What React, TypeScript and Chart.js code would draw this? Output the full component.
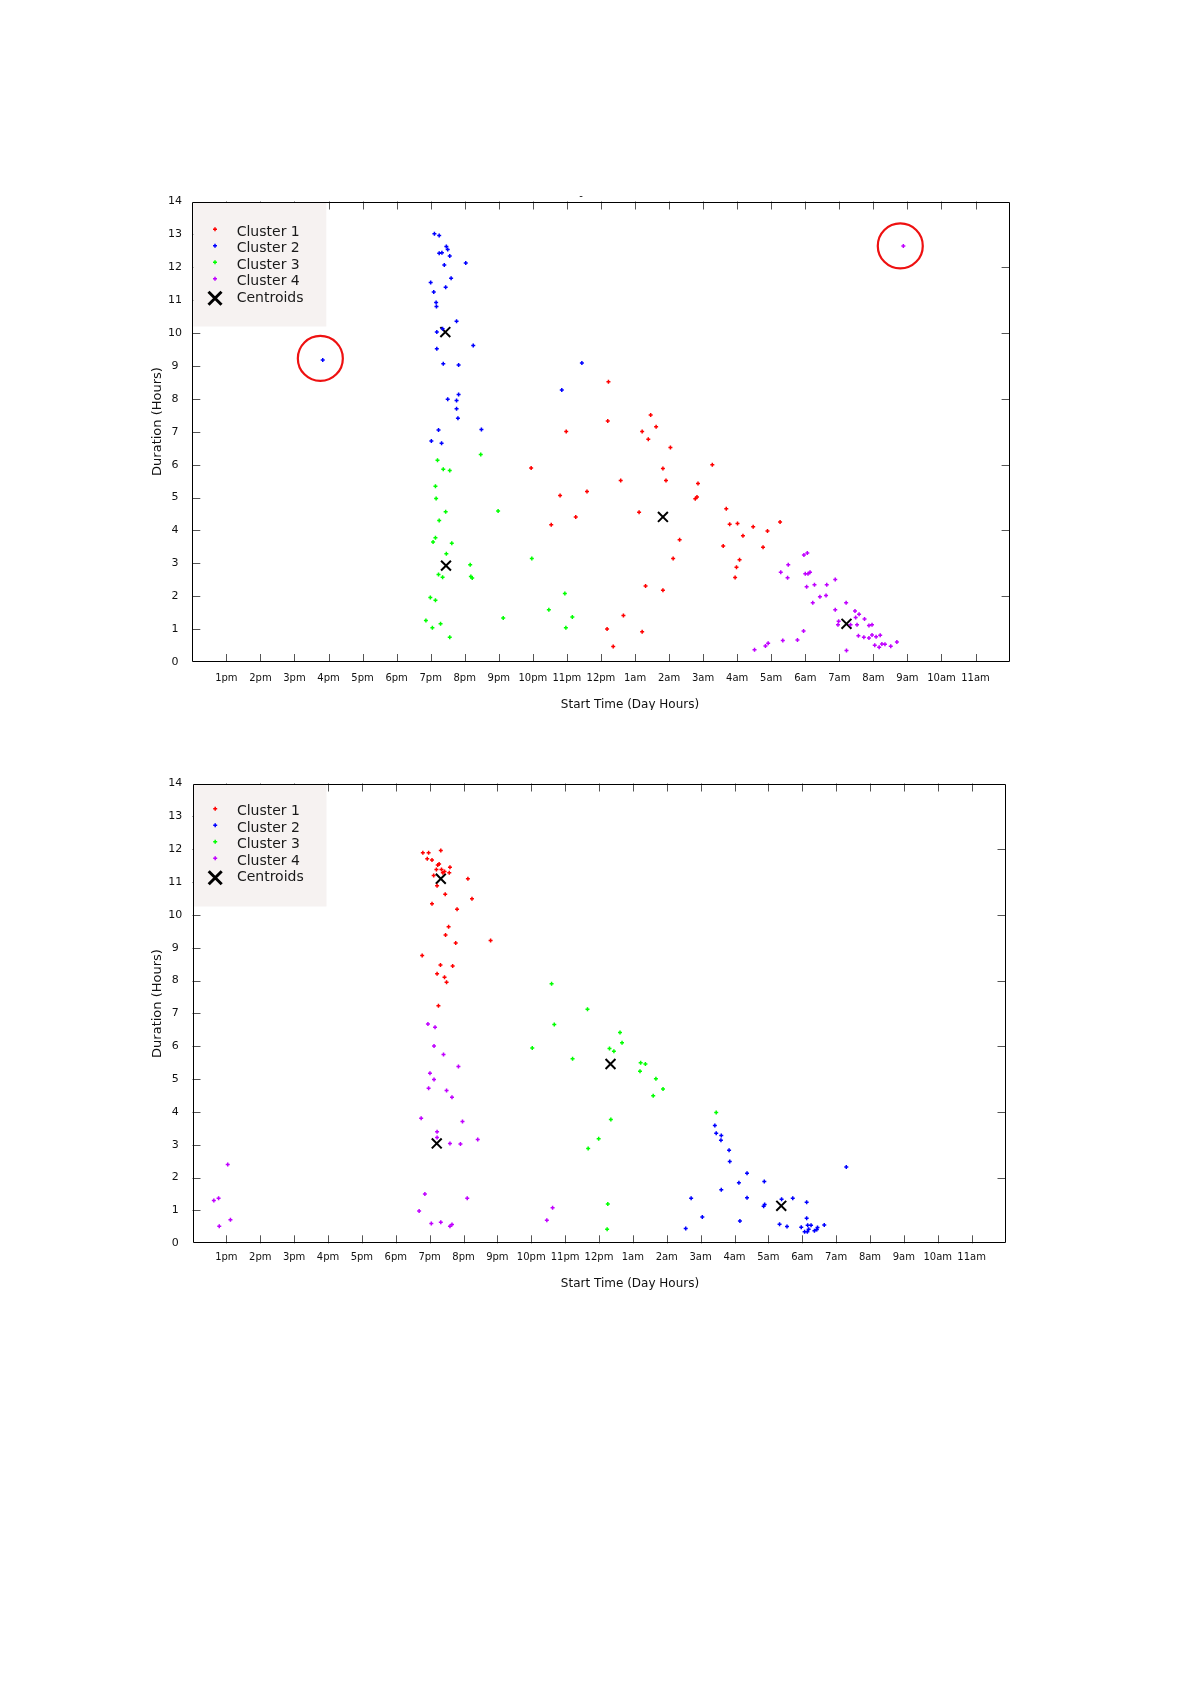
import React, { useEffect, useRef } from 'react';
import { Chart, registerables } from 'chart.js';

Chart.register(...registerables);

type Pt = [number, number];

// x values are hours after 12pm (noon); labels as printed on the chart
const hourLabels = ['12pm', '1pm', '2pm', '3pm', '4pm', '5pm', '6pm', '7pm', '8pm', '9pm', '10pm', '11pm', '12pm',
  '1am', '2am', '3am', '4am', '5am', '6am', '7am', '8am', '9am', '10am', '11am', '12pm'];
const hourTicks = [1, 2, 3, 4, 5, 6, 7, 8, 9, 10, 11, 12, 13, 14, 15, 16, 17, 18, 19, 20, 21, 22, 23];
const durationTicks = [0, 1, 2, 3, 4, 5, 6, 7, 8, 9, 10, 11, 12, 13, 14];
const legendLabels = ['Cluster 1', 'Cluster 2', 'Cluster 3', 'Cluster 4', 'Centroids'];
const clusterColors = ['#ff0000', '#0000ff', '#00ff00', '#c000ff'];
const xTitle = 'Start Time (Day Hours)';
const yTitle = 'Duration (Hours)';

// ---------- top chart ----------
const topCluster1: Pt[] = [[12.22, 8.52], [12.20, 7.33], [13.46, 7.51], [13.62, 7.15], [13.21, 7.01], [13.39, 6.77], [10.98, 7.01], [14.04, 6.52], [9.95, 5.90], [13.82, 5.88], [13.91, 5.52], [12.58, 5.52], [11.59, 5.18], [14.85, 5.43], [15.27, 6.00], [14.77, 4.96], [14.82, 5.02], [10.80, 5.06], [13.12, 4.55], [11.26, 4.41], [10.54, 4.17], [14.31, 3.72], [15.68, 4.66], [15.78, 4.19], [16.01, 4.21], [16.47, 4.11], [16.89, 3.98], [17.26, 4.26], [16.17, 3.84], [15.59, 3.53], [16.76, 3.49], [16.07, 3.11], [15.98, 2.88], [15.94, 2.57], [14.12, 3.15], [13.31, 2.31], [13.82, 2.18], [12.66, 1.41], [12.18, 1.00], [13.21, 0.92], [12.36, 0.47]];
const topCluster2: Pt[] = [[7.11, 13.02], [7.25, 12.97], [7.46, 12.63], [7.50, 12.54], [7.25, 12.43], [7.33, 12.44], [7.56, 12.34], [7.40, 12.07], [8.03, 12.13], [7.60, 11.67], [7.00, 11.54], [7.09, 11.25], [7.44, 11.39], [7.16, 10.93], [7.17, 10.81], [7.76, 10.36], [7.18, 10.03], [7.35, 10.13], [8.25, 9.62], [7.18, 9.52], [7.37, 9.07], [7.82, 9.03], [11.44, 9.09], [10.85, 8.27], [7.50, 7.99], [7.82, 8.13], [7.76, 7.95], [7.76, 7.70], [7.80, 7.41], [7.23, 7.05], [8.49, 7.07], [7.02, 6.72], [7.32, 6.65], [3.83, 9.18]];
const topCluster3: Pt[] = [[7.20, 6.13], [7.37, 5.86], [7.56, 5.82], [8.47, 6.31], [7.14, 5.34], [7.16, 4.97], [7.44, 4.57], [8.98, 4.59], [7.25, 4.30], [7.14, 3.78], [7.07, 3.65], [7.62, 3.61], [7.46, 3.29], [8.16, 2.96], [7.23, 2.66], [7.35, 2.58], [8.18, 2.60], [8.22, 2.55], [9.97, 3.15], [6.99, 1.96], [7.14, 1.88], [6.86, 1.26], [7.05, 1.04], [7.29, 1.16], [7.56, 0.75], [9.13, 1.34], [10.47, 1.59], [10.94, 2.08], [11.16, 1.37], [10.97, 1.04]];
const topCluster4: Pt[] = [[16.51, 0.37], [16.83, 0.49], [16.91, 0.57], [17.34, 0.65], [17.77, 0.67], [17.28, 2.73], [17.50, 2.96], [17.48, 2.56], [17.96, 3.25], [18.06, 3.31], [18.00, 2.68], [18.08, 2.68], [18.14, 2.73], [18.04, 2.29], [18.27, 2.35], [18.63, 2.35], [18.88, 2.51], [18.43, 1.98], [18.61, 2.02], [18.22, 1.80], [18.88, 1.59], [19.20, 1.80], [19.46, 1.55], [19.58, 1.45], [19.48, 1.35], [19.74, 1.31], [18.98, 1.24], [18.96, 1.13], [19.33, 1.13], [19.52, 1.13], [19.87, 1.11], [19.96, 1.13], [19.56, 0.80], [19.72, 0.75], [19.87, 0.73], [19.96, 0.82], [20.08, 0.77], [20.20, 0.81], [20.04, 0.51], [20.17, 0.45], [20.25, 0.55], [20.34, 0.54], [20.51, 0.48], [20.69, 0.61], [19.21, 0.35], [17.95, 0.94], [20.88, 12.65]];
const topCentroids: Pt[] = [[13.82, 4.41], [7.43, 10.03], [7.45, 2.93], [19.21, 1.16]];
const topHighlights: Pt[] = [[3.76, 9.23], [20.79, 12.65]];

// ---------- bottom chart ----------
const bottomCluster1: Pt[] = [[6.80, 11.89], [6.97, 11.89], [7.33, 11.96], [6.93, 11.71], [7.07, 11.67], [7.24, 11.52], [7.28, 11.55], [7.20, 11.38], [7.35, 11.38], [7.60, 11.45], [7.58, 11.28], [7.44, 11.32], [7.39, 11.28], [7.12, 11.20], [7.22, 10.89], [8.13, 11.10], [7.46, 10.63], [8.25, 10.49], [7.07, 10.34], [7.81, 10.17], [7.56, 9.64], [7.47, 9.39], [7.77, 9.14], [8.80, 9.22], [6.78, 8.76], [7.32, 8.47], [7.68, 8.44], [7.22, 8.21], [7.44, 8.10], [7.50, 7.95], [7.26, 7.23]];
const bottomCluster2: Pt[] = [[15.42, 3.59], [15.46, 3.35], [15.61, 3.28], [15.60, 3.14], [15.84, 2.83], [15.86, 2.49], [16.37, 2.13], [16.13, 1.84], [15.61, 1.63], [16.37, 1.39], [16.88, 1.88], [16.89, 1.18], [16.86, 1.13], [14.72, 1.37], [15.05, 0.80], [14.56, 0.45], [16.16, 0.68], [17.39, 1.34], [17.72, 1.37], [17.33, 0.58], [17.55, 0.51], [18.13, 1.25], [18.13, 0.76], [17.97, 0.49], [18.07, 0.35], [18.15, 0.35], [18.19, 0.43], [18.16, 0.55], [18.26, 0.55], [18.36, 0.38], [18.43, 0.42], [18.45, 0.48], [18.65, 0.56], [19.30, 2.32]];
const bottomCluster3: Pt[] = [[10.60, 7.90], [11.66, 7.13], [10.68, 6.66], [10.03, 5.95], [11.22, 5.62], [12.62, 6.42], [12.68, 6.11], [12.31, 5.93], [12.44, 5.85], [13.23, 5.50], [13.37, 5.46], [13.21, 5.24], [13.68, 5.01], [13.89, 4.70], [13.60, 4.49], [15.46, 3.98], [12.35, 3.77], [11.99, 3.18], [11.68, 2.89], [12.26, 1.20], [12.24, 0.43]];
const bottomCluster4: Pt[] = [[6.95, 6.68], [7.16, 6.58], [7.13, 6.01], [7.41, 5.75], [7.85, 5.38], [7.01, 5.18], [7.13, 4.99], [6.97, 4.72], [7.50, 4.65], [7.66, 4.45], [6.75, 3.81], [7.97, 3.71], [7.22, 3.40], [7.22, 3.22], [7.60, 3.04], [7.91, 3.02], [8.42, 3.16], [6.86, 1.50], [6.69, 0.98], [8.11, 1.37], [7.05, 0.60], [7.33, 0.64], [7.60, 0.52], [7.66, 0.57], [10.63, 1.08], [10.46, 0.70], [1.04, 2.40], [0.63, 1.30], [0.77, 1.37], [1.12, 0.72], [0.79, 0.52]];
const bottomCentroids: Pt[] = [[7.33, 11.10], [17.38, 1.14], [12.34, 5.46], [7.21, 3.04]];
const bottomHighlights: Pt[] = [];

const FONT = "'DejaVu Sans', 'Liberation Sans', sans-serif";

const framePlugin = {
  id: 'frame',
  beforeDatasetsDraw(chart: any, _args: any, opts: any) {
    const { ctx, chartArea: a, scales } = chart;
    const xs = scales.x;
    const ys = scales.y;
    ctx.save();
    // inward tick marks
    ctx.strokeStyle = '#555';
    ctx.lineWidth = 1;
    ctx.beginPath();
    for (const h of hourTicks) {
      const px = Math.round(xs.getPixelForValue(h)) + 0.5;
      ctx.moveTo(px, a.bottom);
      ctx.lineTo(px, a.bottom - 8);
      ctx.moveTo(px, a.top);
      ctx.lineTo(px, a.top + 8);
    }
    for (const v of durationTicks) {
      if (v === 0 || v === 14) continue;
      const py = Math.round(ys.getPixelForValue(v)) + 0.5;
      ctx.moveTo(a.left, py);
      ctx.lineTo(a.left + 8, py);
      if (v % 2 === 0) {
        ctx.moveTo(a.right, py);
        ctx.lineTo(a.right - 8, py);
      }
    }
    ctx.stroke();

    // legend box
    ctx.fillStyle = '#f6f2f1';
    ctx.fillRect(a.left + 1, a.top + 1, 133, opts.legendHeight);

    // border
    ctx.strokeStyle = '#000';
    ctx.lineWidth = 1;
    ctx.beginPath();
    const l = Math.round(a.left) + 0.5, r = Math.round(a.right) - 0.5;
    const t = Math.round(a.top) + 0.5, b = Math.round(a.bottom) - 0.5;
    ctx.rect(l, t, r - l, b - t);
    ctx.stroke();

    // legend entries
    ctx.font = `14px ${FONT}`;
    ctx.textBaseline = 'middle';
    ctx.textAlign = 'left';
    legendLabels.forEach((label, i) => {
      const cy = a.top + opts.legendRowTop + 16.5 * i;
      const mx = a.left + 22.7;
      if (i < 4) {
        ctx.strokeStyle = clusterColors[i];
        ctx.lineWidth = 1.5;
        ctx.beginPath();
        ctx.moveTo(mx - 2, cy - 3);
        ctx.lineTo(mx + 2, cy - 3);
        ctx.moveTo(mx, cy - 5);
        ctx.lineTo(mx, cy - 1);
        ctx.stroke();
      } else {
        ctx.strokeStyle = '#000';
        ctx.lineWidth = 3;
        ctx.beginPath();
        ctx.moveTo(mx - 6.5, cy - 6.5);
        ctx.lineTo(mx + 6.5, cy + 6.5);
        ctx.moveTo(mx + 6.5, cy - 6.5);
        ctx.lineTo(mx - 6.5, cy + 6.5);
        ctx.stroke();
      }
      ctx.fillStyle = '#1a1a1a';
      ctx.fillText(label, a.left + 44.4, cy);
    });

    // axis titles
    ctx.fillStyle = '#111';
    ctx.font = `12px ${FONT}`;
    ctx.textAlign = 'center';
    ctx.fillText(xTitle, 630, a.bottom + opts.xTitleOffset);
    ctx.save();
    ctx.translate(158, a.top + 220);
    ctx.rotate(-Math.PI / 2);
    ctx.font = `13px ${FONT}`;
    ctx.fillText(yTitle, 0, 0);
    ctx.restore();

    if (opts.dash) {
      ctx.font = `10px ${FONT}`;
      ctx.fillText('-', 581, a.top - 5);
    }
    ctx.restore();
  },
  afterDatasetsDraw(chart: any, _args: any, opts: any) {
    const { ctx, scales } = chart;
    ctx.save();
    ctx.strokeStyle = '#ee1111';
    ctx.lineWidth = 2.2;
    for (const [hx, vy] of opts.highlights as Pt[]) {
      ctx.beginPath();
      ctx.arc(scales.x.getPixelForValue(hx), scales.y.getPixelForValue(vy), 22.5, 0, Math.PI * 2);
      ctx.stroke();
    }
    ctx.restore();
  },
};

interface PanelProps {
  top: number;
  height: number;
  clusters: Pt[][];
  centroids: Pt[];
  highlights: Pt[];
  pad: { left: number; right: number; top: number; bottom: number };
  legendRowTop: number;
  legendHeight: number;
  tickPad: number;
  xTitleOffset: number;
  dash: boolean;
}

function ScatterPanel(props: PanelProps) {
  const ref = useRef<HTMLCanvasElement | null>(null);
  useEffect(() => {
    if (!ref.current) return;
    const toXY = (pts: Pt[]) => pts.map(([x, y]) => ({ x, y }));
    const datasets: any[] = props.clusters.map((pts, i) => ({
      label: legendLabels[i],
      data: toXY(pts),
      pointStyle: 'cross',
      pointRadius: 2,
      pointHoverRadius: 2,
      pointBorderWidth: 1.5,
      borderColor: clusterColors[i],
      backgroundColor: clusterColors[i],
      showLine: false,
    }));
    datasets.push({
      label: legendLabels[4],
      data: toXY(props.centroids),
      pointStyle: 'crossRot',
      pointRadius: 7,
      pointHoverRadius: 7,
      pointBorderWidth: 2,
      borderColor: '#000',
      backgroundColor: '#000',
      showLine: false,
    });
    const chart = new Chart(ref.current, {
      type: 'scatter',
      data: { datasets },
      plugins: [framePlugin],
      options: {
        responsive: false,
        animation: false,
        events: [],
        layout: { padding: props.pad },
        plugins: {
          legend: { display: false },
          tooltip: { enabled: false },
          title: { display: false },
          frame: {
            highlights: props.highlights,
            legendRowTop: props.legendRowTop,
            legendHeight: props.legendHeight,
            xTitleOffset: props.xTitleOffset,
            dash: props.dash,
          },
        } as any,
        scales: {
          x: {
            type: 'linear',
            min: 0,
            max: 24,
            afterBuildTicks: (s: any) => {
              s.ticks = hourTicks.map((v) => ({ value: v }));
            },
            afterFit: (s: any) => {
              s.height = 30;
            },
            ticks: {
              autoSkip: false,
              maxRotation: 0,
              minRotation: 0,
              padding: props.tickPad,
              color: '#111',
              font: { family: FONT, size: 10 },
              callback: (v: any) => hourLabels[Number(v)],
            },
            grid: { display: false, drawTicks: false },
            border: { display: false },
          },
          y: {
            type: 'linear',
            min: 0,
            max: 14,
            afterBuildTicks: (s: any) => {
              s.ticks = durationTicks.map((v) => ({ value: v }));
            },
            afterFit: (s: any) => {
              s.width = 92.3;
            },
            ticks: {
              crossAlign: 'center',
              padding: 10.3,
              color: '#111',
              font: { family: FONT, size: 11 },
              callback: (v: any) => String(v),
            },
            grid: { display: false, drawTicks: false },
            border: { display: false },
          },
        },
      } as any,
    });
    return () => chart.destroy();
  }, []);
  return (
    <canvas
      ref={ref}
      width={1191}
      height={props.height}
      style={{ position: 'absolute', left: 0, top: props.top, width: 1191, height: props.height }}
    />
  );
}

export default function App() {
  return (
    <div style={{ position: 'absolute', left: 0, top: 0, width: 1191, height: 1684, background: '#ffffff' }}>
      <ScatterPanel
        top={150}
        height={560}
        clusters={[topCluster1, topCluster2, topCluster3, topCluster4]}
        centroids={topCentroids}
        highlights={topHighlights}
        pad={{ left: 100, right: 181.4, top: 51.5, bottom: 18 }}
        legendRowTop={30.8}
        legendHeight={124}
        tickPad={10}
        xTitleOffset={43}
        dash={true}
      />
      <ScatterPanel
        top={730}
        height={580}
        clusters={[bottomCluster1, bottomCluster2, bottomCluster3, bottomCluster4]}
        centroids={bottomCentroids}
        highlights={bottomHighlights}
        pad={{ left: 100.2, right: 185.5, top: 53.5, bottom: 36.7 }}
        legendRowTop={28.2}
        legendHeight={122}
        tickPad={8.5}
        xTitleOffset={41}
        dash={false}
      />
    </div>
  );
}
